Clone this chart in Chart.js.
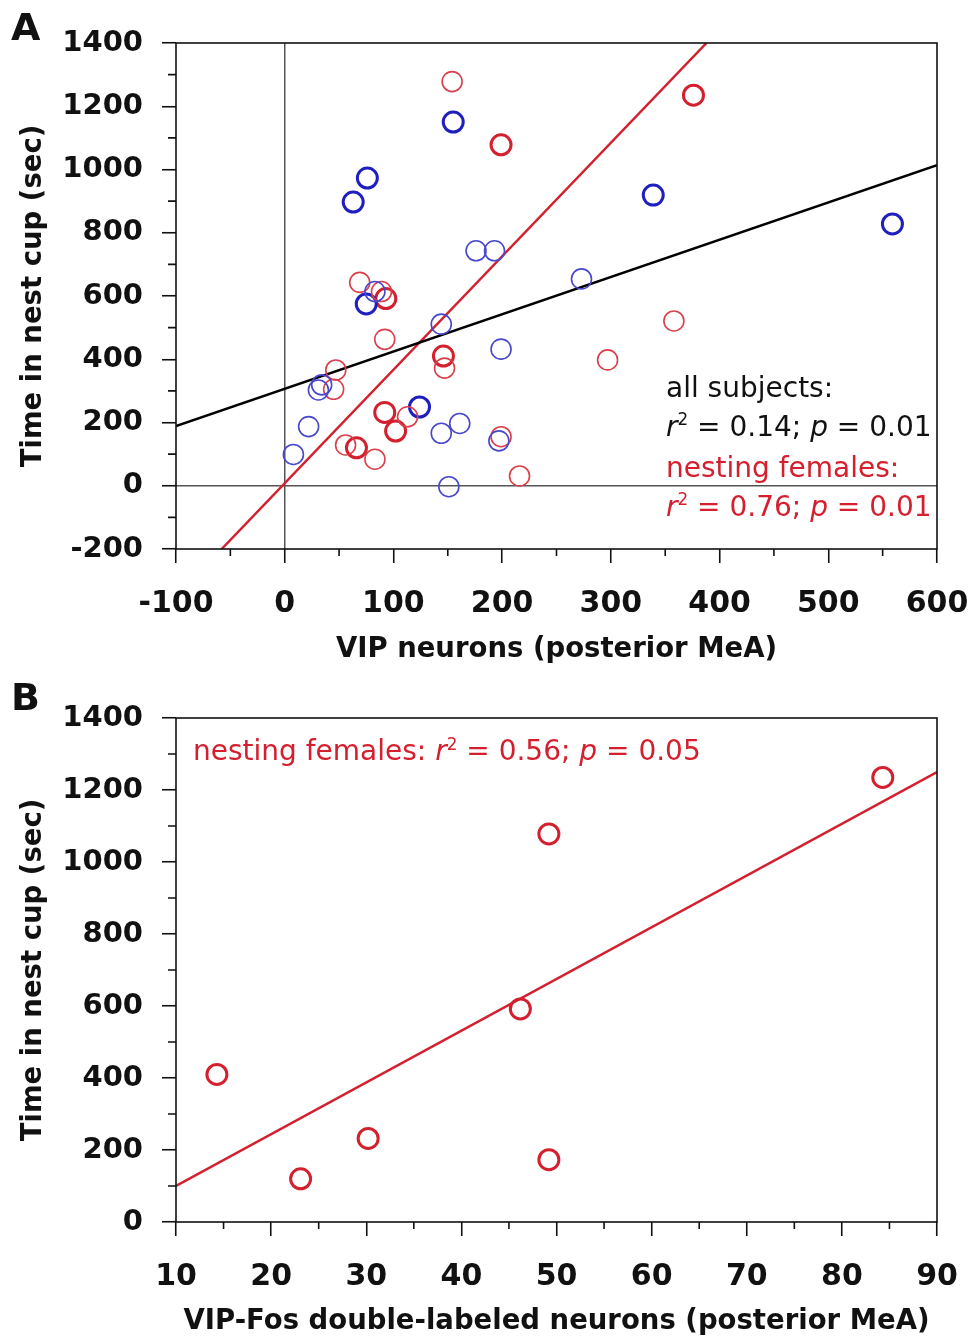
<!DOCTYPE html>
<html>
<head>
<meta charset="utf-8">
<title>VIP neurons and nest cup time</title>
<script src="https://cdn.jsdelivr.net/npm/chart.js@4.4.1/dist/chart.umd.min.js"></script>
<style>
  body { margin: 0; background: #fff; }
  #page { position: relative; width: 973px; height: 1341px; overflow: hidden; font-family: 'DejaVu Sans', sans-serif; }
  #page canvas { position: absolute; left: 0; }
  #chartA { top: 0; }
  #chartB { top: 670px; }
  .panel { position: absolute; font-weight: bold; font-size: 38px; line-height: 1; color: #111; }
  .note { position: absolute; font-size: 28px; line-height: 38.5px; white-space: nowrap; color: #111; }
  .note i { font-style: italic; }
  .sq { font-size: 0.6em; position: relative; top: -0.6em; }
  .red { color: #d4202e; }
</style>
</head>
<body>
<div id="page">
  <canvas id="chartA" width="973" height="670"></canvas>
  <canvas id="chartB" width="973" height="671"></canvas>
  <div class="panel" style="left:11px; top:8px;">A</div>
  <div class="panel" style="left:11px; top:678px;">B</div>
  <div class="note" style="left:666px; top:369px;">
    all subjects:<br>
    <i>r</i><span class="sq">2</span> = 0.14; <i>p</i> = 0.01<br>
    <span class="red">nesting females:</span><br>
    <span class="red"><i>r</i><span class="sq">2</span> = 0.76; <i>p</i> = 0.01</span>
  </div>
  <div class="note red" style="left:193px; top:732px;">
    nesting females: <i>r</i><span class="sq">2</span> = 0.56; <i>p</i> = 0.05
  </div>
</div>

<script>
// ---- Panel A data (VIP neurons, posterior MeA) ----
// blue = non-nesting subjects, red = nesting females; bold = subjects also in panel B
const aBlueBoldX = [155, 76, 63, 339, 559, 75, 124];
const aBlueBoldY = [1150, 973, 897, 919, 828, 575, 249];

const aBlueX = [176, 193, 273, 144, 199, 22, 8, 31, 34, 144, 161, 197, 151, 83];
const aBlueY = [743, 743, 654, 511, 432, 187, 99, 303, 319, 166, 197, 142, -3, 614];

const aRedBoldX = [376, 199, 93, 146, 92, 102, 66];
const aRedBoldY = [1235, 1078, 592, 410, 232, 173, 120];

const aRedX = [154, 358, 297, 69, 89, 92, 47, 45, 147, 113, 56, 83, 216, 199];
const aRedY = [1278, 521, 398, 643, 614, 463, 366, 305, 372, 218, 129, 84, 31, 155];

// regression lines (end points)
const aFitAllX = [-100, 600];
const aFitAllY = [189, 1014];
const aFitNestX = [-58, 388];
const aFitNestY = [-200, 1400];

const aXTicks = [-100, 0, 100, 200, 300, 400, 500, 600];
const aYTicks = [-200, 0, 200, 400, 600, 800, 1000, 1200, 1400];

// ---- Panel B data (VIP-Fos double-labeled neurons) ----
const bX = [14.3, 23.1, 30.2, 46.2, 49.2, 49.2, 84.3];
const bY = [410, 120, 232, 592, 1078, 173, 1235];
const bFitX = [10, 90];
const bFitY = [100, 1250];

const bXTicks = [10, 20, 30, 40, 50, 60, 70, 80, 90];
const bYTicks = [0, 200, 400, 600, 800, 1000, 1200, 1400];

// colours
const RED = '#d4202e';
const RED_THIN = '#d9404c';
const BLUE = '#1f1fc0';
const BLUE_THIN = '#4848cc';
const INK = '#111';

const FONT = 'DejaVu Sans';

function pts(xs, ys) {
  return xs.map((x, i) => ({ x: x, y: ys[i] }));
}

function circles(label, xs, ys, color, width) {
  return {
    label: label,
    data: pts(xs, ys),
    showLine: false,
    pointStyle: 'circle',
    pointRadius: 10,
    pointHoverRadius: 10,
    pointBorderWidth: width,
    pointBackgroundColor: 'rgba(0,0,0,0)',
    pointBorderColor: color,
    borderColor: color,
    order: 1,
  };
}

function fitLine(label, xs, ys, color) {
  return {
    label: label,
    data: pts(xs, ys),
    showLine: true,
    borderColor: color,
    borderWidth: 2.5,
    pointRadius: 0,
    fill: false,
    order: 2,
  };
}

// minor tick marks and the closed frame round the plot
const frameAndMinor = {
  id: 'frameAndMinor',
  afterDraw(chart, args, opts) {
    const ctx = chart.ctx;
    const xs = chart.scales.x;
    const ys = chart.scales.y;
    const area = chart.chartArea;
    ctx.save();
    ctx.strokeStyle = INK;
    ctx.lineWidth = 1.6;
    ctx.beginPath();
    for (let v = xs.min; v <= xs.max + 1e-9; v += opts.xMinor) {
      if (Math.abs(v / opts.xMajor - Math.round(v / opts.xMajor)) < 1e-6) continue;
      const px = xs.getPixelForValue(v);
      ctx.moveTo(px, area.bottom);
      ctx.lineTo(px, area.bottom + 7);
    }
    for (let v = ys.min; v <= ys.max + 1e-9; v += opts.yMinor) {
      if (Math.abs(v / opts.yMajor - Math.round(v / opts.yMajor)) < 1e-6) continue;
      const py = ys.getPixelForValue(v);
      ctx.moveTo(area.left, py);
      ctx.lineTo(area.left - 8, py);
    }
    ctx.stroke();
    ctx.strokeRect(area.left, area.top, area.right - area.left, area.bottom - area.top);
    ctx.restore();
  }
};

function axis(min, max, ticks, title, isX, size, zeroLine, titlePad) {
  return {
    type: 'linear',
    min: min,
    max: max,
    afterBuildTicks: s => { s.ticks = ticks.map(v => ({ value: v })); },
    afterFit: s => {
      if (isX) s.height = size; else s.width = size;
      // keep the plot box where the layout padding puts it
      s.paddingLeft = 0; s.paddingRight = 0; s.paddingTop = 0; s.paddingBottom = 0;
    },
    ticks: {
      autoSkip: false,
      maxRotation: 0,
      padding: isX ? 23 : 19,
      color: INK,
      font: { family: FONT, weight: 'bold', size: isX ? 30 : 29 },
      callback: v => String(v),
    },
    grid: {
      drawOnChartArea: zeroLine,
      color: c => (zeroLine && c.tick && c.tick.value === 0) ? '#555' : 'rgba(0,0,0,0)',
      lineWidth: 1.5,
      tickColor: INK,
      tickWidth: 1.6,
      tickLength: 14,
    },
    border: { display: false },
    title: {
      display: true,
      text: title,
      color: INK,
      font: { family: FONT, weight: 'bold', size: 27.5 },
      padding: titlePad,
    },
  };
}

function baseOptions(padTop) {
  return {
    responsive: false,
    animation: false,
    events: [],
    layout: { padding: { left: 0, right: 36, top: padTop, bottom: 0 } },
    plugins: { legend: { display: false }, tooltip: { enabled: false } },
  };
}

// Panel A
const optsA = baseOptions(43);
optsA.scales = {
  x: axis(-100, 600, aXTicks, 'VIP neurons (posterior MeA)', true, 121, true, { top: 0, bottom: 4 }),
  y: axis(-200, 1400, aYTicks, 'Time in nest cup (sec)', false, 176, true, { top: 17, bottom: 0 }),
};
optsA.plugins.frameAndMinor = { xMinor: 50, xMajor: 100, yMinor: 100, yMajor: 200 };

new Chart(document.getElementById('chartA'), {
  type: 'scatter',
  data: {
    datasets: [
      fitLine('all subjects', aFitAllX, aFitAllY, '#000'),
      fitLine('nesting females', aFitNestX, aFitNestY, RED),
      circles('other (thin)', aBlueX, aBlueY, BLUE_THIN, 1.6),
      circles('nesting (thin)', aRedX, aRedY, RED_THIN, 1.6),
      circles('other (bold)', aBlueBoldX, aBlueBoldY, BLUE, 3),
      circles('nesting (bold)', aRedBoldX, aRedBoldY, RED, 3),
    ],
  },
  options: optsA,
  plugins: [frameAndMinor],
});

// Panel B
const optsB = baseOptions(48);
optsB.scales = {
  x: axis(10, 90, bXTicks, 'VIP-Fos double-labeled neurons (posterior MeA)', true, 119, false, { top: 0, bottom: 3 }),
  y: axis(0, 1400, bYTicks, 'Time in nest cup (sec)', false, 176, false, { top: 17, bottom: 0 }),
};
optsB.plugins.frameAndMinor = { xMinor: 5, xMajor: 10, yMinor: 100, yMajor: 200 };

new Chart(document.getElementById('chartB'), {
  type: 'scatter',
  data: {
    datasets: [
      fitLine('nesting females', bFitX, bFitY, RED),
      circles('nesting females', bX, bY, RED, 3),
    ],
  },
  options: optsB,
  plugins: [frameAndMinor],
});
</script>
</body>
</html>
